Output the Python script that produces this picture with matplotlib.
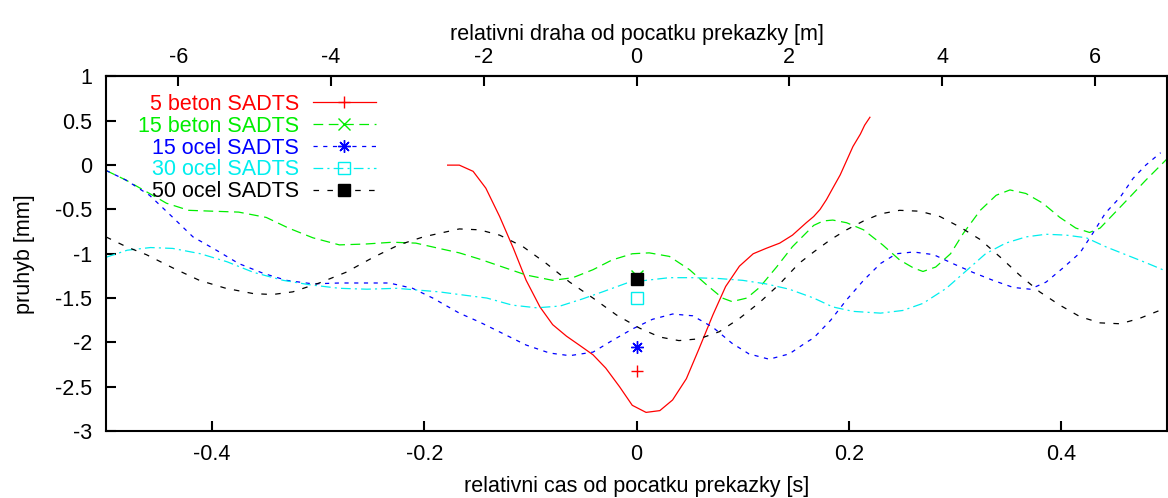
import matplotlib
matplotlib.use("Agg")
import matplotlib.pyplot as plt

plt.rcParams['font.family'] = ['Liberation Sans', 'DejaVu Sans']
plt.rcParams['font.size'] = 15.5
plt.rcParams['lines.scale_dashes'] = False

# 5 beton SADTS
t_5b = [-0.178, -0.173, -0.167, -0.154, -0.142, -0.129, -0.116, -0.104, -0.091, -0.079,
        -0.066, -0.054, -0.041, -0.029, -0.016, -0.004, 0.009, 0.022, 0.034, 0.047,
        0.059, 0.072, 0.084, 0.097, 0.110, 0.122, 0.135, 0.147, 0.160, 0.167,
        0.173, 0.179, 0.185, 0.192, 0.198, 0.204, 0.211, 0.215, 0.220]
y_5b = [0.0, 0.0, 0.0, -0.07, -0.26, -0.58, -0.94, -1.30, -1.60, -1.80,
        -1.93, -2.03, -2.14, -2.29, -2.50, -2.71, -2.79, -2.77, -2.65, -2.41,
        -2.07, -1.69, -1.37, -1.14, -1.00, -0.94, -0.88, -0.79, -0.65, -0.58,
        -0.50, -0.39, -0.26, -0.11, 0.05, 0.21, 0.35, 0.45, 0.54]

# 15 beton SADTS
t_15b = [-0.500, -0.481, -0.459, -0.443, -0.422, -0.399, -0.375, -0.349, -0.328, -0.305,
         -0.280, -0.255, -0.230, -0.208, -0.186, -0.167, -0.148, -0.126, -0.104, -0.079,
         -0.060, -0.041, -0.023, -0.004, 0.012, 0.031, 0.050, 0.066, 0.081, 0.090,
         0.104, 0.116, 0.132, 0.147, 0.167, 0.176, 0.185, 0.198, 0.214, 0.232,
         0.248, 0.261, 0.270, 0.282, 0.296, 0.308, 0.324, 0.339, 0.352, 0.367,
         0.383, 0.399, 0.414, 0.427, 0.437, 0.449, 0.465, 0.480, 0.500]
y_15b = [-0.06, -0.17, -0.32, -0.43, -0.51, -0.52, -0.53, -0.59, -0.71, -0.82,
         -0.90, -0.89, -0.87, -0.88, -0.94, -0.99, -1.06, -1.15, -1.24, -1.30,
         -1.27, -1.18, -1.07, -1.00, -0.99, -1.03, -1.18, -1.35, -1.50, -1.54,
         -1.50, -1.38, -1.15, -0.92, -0.68, -0.63, -0.62, -0.65, -0.73, -0.90,
         -1.07, -1.16, -1.20, -1.15, -1.00, -0.77, -0.51, -0.34, -0.28, -0.32,
         -0.43, -0.59, -0.71, -0.76, -0.71, -0.56, -0.36, -0.17, 0.07]

# 15 ocel SADTS
t_15o = [-0.500, -0.481, -0.459, -0.437, -0.418, -0.396, -0.375, -0.352, -0.330, -0.305,
         -0.280, -0.255, -0.233, -0.211, -0.192, -0.167, -0.148, -0.126, -0.104, -0.082,
         -0.063, -0.041, -0.023, -0.004, 0.015, 0.034, 0.053, 0.072, 0.090, 0.106,
         0.125, 0.144, 0.160, 0.167, 0.183, 0.198, 0.214, 0.230, 0.245, 0.261,
         0.280, 0.298, 0.317, 0.336, 0.355, 0.371, 0.386, 0.402, 0.418, 0.430,
         0.442, 0.456, 0.468, 0.480, 0.494]
y_15o = [-0.06, -0.17, -0.34, -0.59, -0.81, -0.96, -1.11, -1.22, -1.30, -1.34,
         -1.33, -1.33, -1.33, -1.39, -1.50, -1.67, -1.77, -1.90, -2.03, -2.12,
         -2.15, -2.11, -1.98, -1.85, -1.74, -1.68, -1.70, -1.83, -2.01, -2.13,
         -2.19, -2.13, -2.00, -1.95, -1.75, -1.52, -1.30, -1.11, -1.00, -0.98,
         -1.01, -1.11, -1.21, -1.30, -1.38, -1.40, -1.32, -1.16, -0.99, -0.77,
         -0.54, -0.36, -0.15, 0.00, 0.14]

# 30 ocel SADTS
t_30o = [-0.500, -0.480, -0.458, -0.437, -0.411, -0.386, -0.361, -0.333, -0.308, -0.280,
         -0.254, -0.226, -0.186, -0.167, -0.141, -0.117, -0.094, -0.072, -0.051, -0.032,
         -0.009, 0.009, 0.031, 0.053, 0.078, 0.100, 0.122, 0.144, 0.167, 0.185,
         0.204, 0.230, 0.251, 0.270, 0.292, 0.311, 0.329, 0.348, 0.367, 0.386,
         0.405, 0.424, 0.442, 0.461, 0.480, 0.500]
y_30o = [-1.04, -0.96, -0.93, -0.94, -1.00, -1.09, -1.21, -1.30, -1.35, -1.39,
         -1.40, -1.39, -1.43, -1.46, -1.50, -1.58, -1.61, -1.59, -1.51, -1.43,
         -1.33, -1.30, -1.27, -1.27, -1.28, -1.30, -1.34, -1.40, -1.50, -1.60,
         -1.65, -1.67, -1.64, -1.56, -1.39, -1.19, -1.00, -0.88, -0.81, -0.78,
         -0.79, -0.82, -0.92, -1.01, -1.10, -1.20]

# 50 ocel SADTS
t_50o = [-0.500, -0.481, -0.462, -0.437, -0.412, -0.387, -0.361, -0.343, -0.324, -0.299,
         -0.274, -0.248, -0.224, -0.201, -0.167, -0.148, -0.129, -0.107, -0.085, -0.063,
         -0.041, -0.019, 0.003, 0.022, 0.040, 0.059, 0.078, 0.097, 0.116, 0.135,
         0.153, 0.167, 0.183, 0.198, 0.214, 0.230, 0.248, 0.267, 0.286, 0.305,
         0.324, 0.343, 0.361, 0.380, 0.399, 0.418, 0.437, 0.456, 0.474, 0.493]
y_50o = [-0.81, -0.92, -1.01, -1.16, -1.30, -1.39, -1.45, -1.46, -1.43, -1.33,
         -1.21, -1.04, -0.90, -0.81, -0.72, -0.73, -0.79, -0.92, -1.11, -1.32,
         -1.50, -1.69, -1.84, -1.94, -1.98, -1.96, -1.88, -1.73, -1.55, -1.34,
         -1.11, -0.98, -0.84, -0.73, -0.63, -0.55, -0.51, -0.52, -0.58, -0.70,
         -0.84, -1.04, -1.24, -1.43, -1.58, -1.71, -1.78, -1.79, -1.73, -1.64]

# single measured points at t = 0
labels = ["5 beton SADTS", "15 beton SADTS", "15 ocel SADTS", "30 ocel SADTS", "50 ocel SADTS"]
point_t = [0.0, 0.0, 0.0, 0.0, 0.0]
point_y = [-2.32, -1.25, -2.05, -1.50, -1.28]

speed = 50 / 3.6  # m/s, converts time to distance on the top axis

series = [(t_5b, y_5b), (t_15b, y_15b), (t_15o, y_15o), (t_30o, y_30o), (t_50o, y_50o)]
colors = ['#ff0000', '#00ee00', '#0000ff', '#00eeee', '#000000']
dashes = [None, (7, 4), (3, 4), (7, 3, 1.5, 3), (4, 6)]
markers = ['+', 'x', (8, 2, 0), 's', 's']
mfill = ['none', 'none', 'none', 'none', 'full']

fig = plt.figure(figsize=(11.68, 4.98), dpi=100)
ax = fig.add_axes([106 / 1168, 67 / 498, 1061 / 1168, 354.5 / 498])

handles = []
for (tt, yy), c, d in zip(series, colors, dashes):
    ln, = ax.plot(tt, yy, color=c, lw=0.9)
    if d is not None:
        ln.set_dashes(d)
    handles.append(ln)

pts = []
for i in range(len(labels)):
    p, = ax.plot([point_t[i]], [point_y[i]], linestyle='none', marker=markers[i],
                 color=colors[i], markersize=9, markeredgewidth=1.0,
                 fillstyle=mfill[i])
    pts.append(p)

ax.set_xlim(-0.5, 0.5)
ax.set_ylim(-3, 1)
ax.set_xticks([-0.4, -0.2, 0, 0.2, 0.4])
ax.set_xticklabels(['-0.4', '-0.2', '0', '0.2', '0.4'])
ax.set_yticks([-3, -2.5, -2, -1.5, -1, -0.5, 0, 0.5, 1])
ax.set_yticklabels(['-3', '-2.5', '-2', '-1.5', '-1', '-0.5', '0', '0.5', '1'])
ax.tick_params(direction='in', length=7, width=1.5)
ax.tick_params(axis='x', pad=9.5)
ax.tick_params(axis='y', pad=10)
for s in ax.spines.values():
    s.set_linewidth(1.5)
ax.set_xlabel('relativni cas od pocatku prekazky [s]', labelpad=7.5)
ax.set_ylabel('pruhyb [mm]', labelpad=14)

top = ax.secondary_xaxis('top', functions=(lambda t: t * speed, lambda m: m / speed))
top.set_xticks([-6, -4, -2, 0, 2, 4, 6])
top.set_xticklabels(['-6', '-4', '-2', '0', '2', '4', '6'])
top.tick_params(direction='in', length=7, width=1.5, pad=6)
top.spines['top'].set_linewidth(1.5)
top.set_xlabel('relativni draha od pocatku prekazky [m]', labelpad=5)

leg = ax.legend(handles=list(zip(handles, pts)), labels=labels, loc='upper right',
                bbox_to_anchor=(0.2545, 0.951), frameon=False, markerfirst=False,
                handlelength=2.93, handletextpad=0.65, labelspacing=0.04,
                borderpad=0, borderaxespad=0, numpoints=1, labelcolor=colors)
for col in leg._legend_handle_box.get_children():
    col.align = 'right'

fig.savefig('out.png', dpi=100)
